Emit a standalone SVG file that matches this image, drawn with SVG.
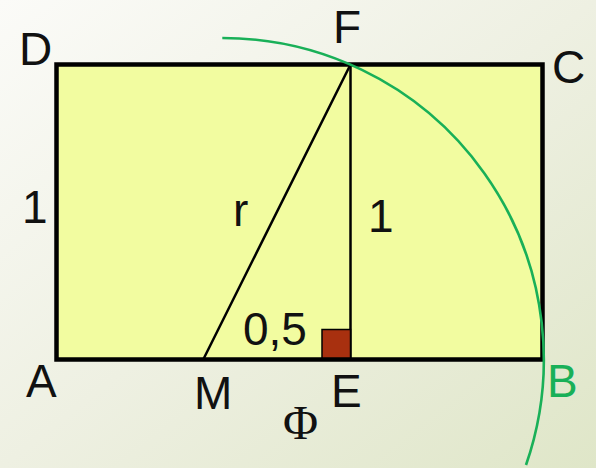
<svg xmlns="http://www.w3.org/2000/svg" width="596" height="468" viewBox="0 0 596 468">
<defs>
<linearGradient id="bg" x1="0" y1="0" x2="1" y2="1">
<stop offset="0" stop-color="#fbfbf8"/>
<stop offset="0.5" stop-color="#eef0e2"/>
<stop offset="1" stop-color="#dfe6c8"/>
</linearGradient>
<style>
.lbl{font-family:"Liberation Sans",Arial,sans-serif;font-size:46px;fill:#111}
.ln{stroke:#000;stroke-width:2.5;fill:none;stroke-linecap:round}
</style>
</defs>
<rect x="0" y="0" width="596" height="468" fill="url(#bg)"/>
<g id="rectangle">
<rect x="56.5" y="64.5" width="486" height="295" fill="#f2fca0" stroke="#000" stroke-width="4.5"/>
</g>
<g id="connectors">
<line class="ln" x1="350.5" y1="64.5" x2="204" y2="358"/>
<line class="ln" x1="350.5" y1="64.5" x2="350.5" y2="358"/>
<path d="M222.3,38 A321.5,321.5 0 0 1 526,465" fill="none" stroke="#19b058" stroke-width="2.6"/>
</g>
<g id="right-angle">
<rect x="322" y="329.5" width="28.5" height="28.5" fill="#a8300f" stroke="#000" stroke-width="1.5"/>
</g>
<g id="labels">
<text class="lbl" x="19" y="65">D</text>
<text class="lbl" x="333" y="43">F</text>
<text class="lbl" x="552" y="83">C</text>
<text class="lbl" x="22" y="223">1</text>
<text class="lbl" x="233" y="226">r</text>
<text class="lbl" x="368" y="232">1</text>
<text class="lbl" x="243" y="345">0,5</text>
<text class="lbl" x="26" y="397">A</text>
<text class="lbl" x="194" y="409">M</text>
<text class="lbl" x="331" y="407">E</text>
<text class="lbl" x="547" y="397" style="fill:#19b058">B</text>
<text x="283" y="439" style="font-family:'Liberation Serif','Times New Roman',serif;font-size:48px;fill:#111">Φ</text>
</g>
</svg>
